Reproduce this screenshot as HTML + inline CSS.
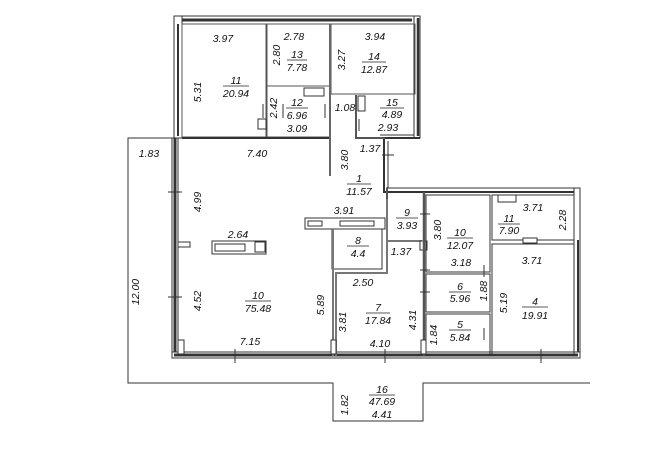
<!DOCTYPE html>
<html><head><meta charset="utf-8"><style>
html,body{margin:0;padding:0;background:#fff;width:647px;height:454px;overflow:hidden}
text{font-family:"Liberation Sans",sans-serif;font-style:italic;font-size:10.5px;fill:#111;text-anchor:middle}
</style></head><body>
<svg width="647" height="454" viewBox="0 0 647 454" xmlns="http://www.w3.org/2000/svg">
<g fill="none" stroke="#333" stroke-width="1">
<polyline points="175,138 128,138 128,383 333,383 333,421 423,421 423,383 590,383"/>
<rect x="174" y="16" width="240" height="8" fill="#fff"/>
<line x1="176" y1="20" x2="412" y2="20" stroke-width="3"/>
<rect x="414" y="16" width="6" height="122" fill="#fff"/>
<line x1="418" y1="18" x2="418" y2="136" stroke-width="2.5"/>
<polyline points="420,138 384,138 384,192 578,192" stroke-width="2"/>
<polyline points="414,135 380,135"/>
<line x1="388" y1="141" x2="388" y2="188"/>
<line x1="388" y1="188" x2="578" y2="188"/>
<rect x="574" y="188" width="6" height="168" fill="#fff"/>
<line x1="578" y1="240" x2="578" y2="356" stroke-width="2"/>
<rect x="174" y="16" width="8" height="122" fill="#fff"/>
<line x1="178" y1="24" x2="178" y2="136" stroke-width="2"/>
<rect x="172" y="138" width="6" height="220" fill="#fff"/>
<line x1="175" y1="138" x2="175" y2="358" stroke-width="3"/>
<rect x="172" y="352" width="408" height="6" fill="#fff"/>
<line x1="174" y1="355" x2="578" y2="355" stroke-width="3"/>
<rect x="182" y="24" width="84" height="113" stroke="#555"/>
<rect x="267" y="24" width="63" height="62" stroke="#555"/>
<rect x="331" y="24" width="84" height="70" stroke="#555"/>
<rect x="267" y="86" width="63" height="51" stroke="#555"/>
<line x1="182" y1="138" x2="331" y2="138" stroke-width="2"/>
<line x1="330" y1="24" x2="330" y2="176" stroke-width="2" stroke="#666"/>
<polyline points="356,95 356,138 385,138" stroke-width="2" stroke="#555"/>
<rect x="258" y="119" width="8" height="10" fill="#fff"/>
<rect x="304" y="88" width="20" height="8" fill="#fff"/>
<rect x="358" y="96" width="7" height="15" fill="#fff"/>
<rect x="305" y="218" width="80" height="11" fill="#fff"/>
<rect x="308" y="221" width="14" height="5"/>
<rect x="340" y="221" width="34" height="5"/>
<rect x="332" y="229" width="50" height="40"/>
<polyline points="333,356 333,229" stroke-width="2" stroke="#777"/>
<polyline points="336,356 336,273 387,273 387,188" stroke="#777" stroke-width="2"/>
<line x1="387" y1="241" x2="422" y2="241" stroke-width="2" stroke="#777"/>
<rect x="420" y="241" width="7" height="9" fill="#fff"/>
<line x1="424" y1="192" x2="424" y2="356" stroke-width="2.5" stroke="#555"/>
<rect x="426" y="195" width="64" height="77"/>
<rect x="426" y="274" width="64" height="38"/>
<rect x="426" y="314" width="64" height="40"/>
<rect x="492" y="195" width="82" height="45"/>
<rect x="492" y="244" width="82" height="110"/>
<rect x="498" y="195" width="18" height="7"/>
<rect x="523" y="238" width="14" height="5" fill="#fff"/>
<rect x="212" y="241" width="54" height="13" fill="#fff"/>
<rect x="215" y="244" width="30" height="7"/>
<rect x="255" y="242" width="10" height="10"/>
<rect x="178" y="242" width="12" height="5" fill="#fff"/>
<rect x="178" y="340" width="6" height="14" fill="#fff"/>
<rect x="331" y="340" width="5" height="14" fill="#fff"/>
<rect x="421" y="340" width="5" height="14" fill="#fff"/>
<path d="M168,192h14M168,297h14M235,349v14M385,349v14M541,349v14M263,104v14M283,104v14M325,104v14M359,119v12M382,155h12M387,187v12M420,270h10M420,292h10M420,214h10M484,265v12M484,328v12" stroke="#333"/>
</g>
<g>
<text x="223" y="42">3.97</text>
<text x="294" y="40">2.78</text>
<text x="375" y="40">3.94</text>
<text x="297" y="58">13</text><line x1="287" y1="60" x2="307" y2="60" stroke="#222" stroke-width="0.8"/><text x="297" y="71">7.78</text>
<text x="374" y="60">14</text><line x1="362" y1="62" x2="386" y2="62" stroke="#222" stroke-width="0.8"/><text x="374" y="73">12.87</text>
<text x="236" y="84">11</text><line x1="223" y1="86" x2="249" y2="86" stroke="#222" stroke-width="0.8"/><text x="236" y="97">20.94</text>
<text x="297" y="106">12</text><line x1="286" y1="108" x2="308" y2="108" stroke="#222" stroke-width="0.8"/><text x="297" y="119">6.96</text>
<text x="297" y="132">3.09</text>
<text x="345" y="111">1.08</text>
<text x="392" y="106">15</text><line x1="380" y1="108" x2="404" y2="108" stroke="#222" stroke-width="0.8"/><text x="392" y="118">4.89</text>
<text x="388" y="131">2.93</text>
<text x="370" y="152">1.37</text>
<text x="149" y="157">1.83</text>
<text x="257" y="157">7.40</text>
<text x="359" y="182">1</text><line x1="347" y1="184" x2="371" y2="184" stroke="#222" stroke-width="0.8"/><text x="359" y="195">11.57</text>
<text x="344" y="214">3.91</text>
<text x="407" y="216">9</text><line x1="396" y1="218" x2="418" y2="218" stroke="#222" stroke-width="0.8"/><text x="407" y="229">3.93</text>
<text x="460" y="236">10</text><line x1="447" y1="238" x2="473" y2="238" stroke="#222" stroke-width="0.8"/><text x="460" y="249">12.07</text>
<text x="461" y="266">3.18</text>
<text x="533" y="211">3.71</text>
<text x="509" y="222">11</text><line x1="498" y1="224" x2="520" y2="224" stroke="#222" stroke-width="0.8"/><text x="509" y="234">7.90</text>
<text x="532" y="264">3.71</text>
<text x="238" y="238">2.64</text>
<text x="358" y="244">8</text><line x1="347" y1="246" x2="369" y2="246" stroke="#222" stroke-width="0.8"/><text x="358" y="257">4.4</text>
<text x="401" y="255">1.37</text>
<text x="363" y="286">2.50</text>
<text x="460" y="290">6</text><line x1="449" y1="292" x2="471" y2="292" stroke="#222" stroke-width="0.8"/><text x="460" y="302">5.96</text>
<text x="258" y="299">10</text><line x1="245" y1="301" x2="271" y2="301" stroke="#222" stroke-width="0.8"/><text x="258" y="312">75.48</text>
<text x="378" y="311">7</text><line x1="366" y1="313" x2="390" y2="313" stroke="#222" stroke-width="0.8"/><text x="378" y="324">17.84</text>
<text x="535" y="305">4</text><line x1="522" y1="307" x2="548" y2="307" stroke="#222" stroke-width="0.8"/><text x="535" y="319">19.91</text>
<text x="460" y="328">5</text><line x1="449" y1="330" x2="471" y2="330" stroke="#222" stroke-width="0.8"/><text x="460" y="341">5.84</text>
<text x="250" y="345">7.15</text>
<text x="380" y="347">4.10</text>
<text x="382" y="393">16</text><line x1="369" y1="395" x2="395" y2="395" stroke="#222" stroke-width="0.8"/><text x="382" y="405">47.69</text>
<text x="382" y="418">4.41</text>
<text transform="translate(280,55) rotate(-90)">2.80</text>
<text transform="translate(345,60) rotate(-90)">3.27</text>
<text transform="translate(201,92) rotate(-90)">5.31</text>
<text transform="translate(277,108) rotate(-90)">2.42</text>
<text transform="translate(348,160) rotate(-90)">3.80</text>
<text transform="translate(201,202) rotate(-90)">4.99</text>
<text transform="translate(441,230) rotate(-90)">3.80</text>
<text transform="translate(566,220) rotate(-90)">2.28</text>
<text transform="translate(487,291) rotate(-90)">1.88</text>
<text transform="translate(201,301) rotate(-90)">4.52</text>
<text transform="translate(324,305) rotate(-90)">5.89</text>
<text transform="translate(346,322) rotate(-90)">3.81</text>
<text transform="translate(416,320) rotate(-90)">4.31</text>
<text transform="translate(507,303) rotate(-90)">5.19</text>
<text transform="translate(437,335) rotate(-90)">1.84</text>
<text transform="translate(139,292) rotate(-90)">12.00</text>
<text transform="translate(348,405) rotate(-90)">1.82</text>
</g>
</svg>
</body></html>
